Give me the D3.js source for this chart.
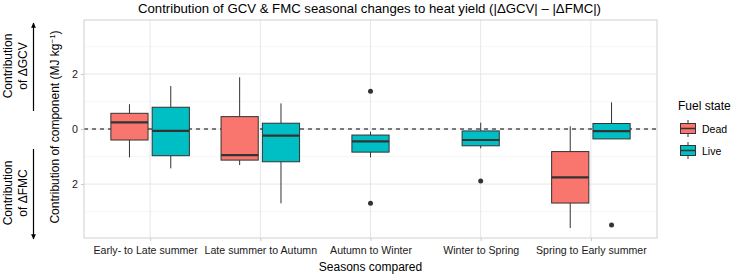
<!DOCTYPE html>
<html>
<head>
<meta charset="utf-8">
<script src="https://cdn.jsdelivr.net/npm/d3@7"></script>
<style>
  body { margin: 0; background: white; }
  text { font-family: "Liberation Sans", Arial, sans-serif; }
</style>
</head>
<body>
<div id="chart"></div>
<script>
const seasons = ["Early- to Late summer", "Late summer to Autumn", "Autumn to Winter", "Winter to Spring", "Spring to Early summer"];
const fuelStates = ["Dead", "Live"];
const fuelColors = ["#F8766D", "#00BFC4"];

// box stats: [season, lowWhisker, q1, median, q3, highWhisker]
const deadBoxes = [
    ["Early- to Late summer", -1.03, -0.40, 0.24, 0.57, 0.90],
    ["Late summer to Autumn", -1.31, -1.13, -0.95, 0.45, 1.88],
    ["Spring to Early summer", -3.60, -2.69, -1.76, -0.82, 0.10]
];
const liveBoxes = [
    ["Early- to Late summer", -1.43, -0.97, -0.07, 0.79, 1.56],
    ["Late summer to Autumn", -2.70, -1.19, -0.24, 0.21, 0.93],
    ["Autumn to Winter", -1.03, -0.84, -0.45, -0.22, -0.10],
    ["Winter to Spring", -0.70, -0.61, -0.40, -0.07, 0.23],
    ["Spring to Early summer", -0.36, -0.36, -0.08, 0.20, 0.97]
];
const liveOutliers = [
    ["Autumn to Winter", 1.37],
    ["Autumn to Winter", -2.70],
    ["Winter to Spring", -1.89],
    ["Spring to Early summer", -3.49]
];
const yTicks = [-2, 0, 2];
const yTickLabels = ["2", "0", "2"];
const yMinor = [-3, -1, 1, 3];

const width = 732, height = 275;
const panel = { left: 84, right: 657, top: 20, bottom: 238 };

const svg = d3.select("#chart").append("svg")
    .attr("width", width)
    .attr("height", height);

const x = d3.scalePoint(seasons, [panel.left, panel.right]).padding(0.6);
const step = x.step();
const y = d3.scaleLinear([-3.96, 3.96], [panel.bottom, panel.top]);

// grid
const grid = svg.append("g");
grid.selectAll(".minor").data(yMinor).enter().append("line")
    .attr("x1", panel.left).attr("x2", panel.right)
    .attr("y1", d => y(d)).attr("y2", d => y(d))
    .attr("stroke", "#f0f0f0").attr("stroke-width", 0.6);
grid.selectAll(".major").data(yTicks).enter().append("line")
    .attr("x1", panel.left).attr("x2", panel.right)
    .attr("y1", d => y(d)).attr("y2", d => y(d))
    .attr("stroke", "#e6e6e6").attr("stroke-width", 1);
grid.selectAll(".vmajor").data(seasons).enter().append("line")
    .attr("x1", d => x(d)).attr("x2", d => x(d))
    .attr("y1", panel.top).attr("y2", panel.bottom)
    .attr("stroke", "#e6e6e6").attr("stroke-width", 1);

// axes
const xAxis = d3.axisBottom(x).tickSize(3).tickPadding(5);
const gx = svg.append("g")
    .attr("transform", `translate(0, ${panel.bottom})`)
    .call(xAxis);
gx.select(".domain").remove();
gx.selectAll(".tick line").attr("stroke", "#c8c8c8");
gx.selectAll("text")
    .attr("fill", "#1a1a1a")
    .attr("dx", (d, i) => i == 0 ? -5 : 0)
    .style("font-size", "10.6px");

const yAxis = d3.axisLeft(y).tickValues(yTicks).tickFormat((d, i) => yTickLabels[i]).tickSize(3).tickPadding(3);
const gy = svg.append("g")
    .attr("transform", `translate(${panel.left}, 0)`)
    .call(yAxis);
gy.select(".domain").remove();
gy.selectAll(".tick line").attr("stroke", "#c8c8c8");
gy.selectAll("text").attr("fill", "#1a1a1a").style("font-size", "10.7px");

// zero line
svg.append("line")
    .attr("x1", panel.left).attr("x2", panel.right)
    .attr("y1", y(0)).attr("y2", y(0))
    .attr("stroke", "#000").attr("stroke-width", 1)
    .attr("stroke-dasharray", "4,4");

// boxes
const boxW = step * 0.75 / 2 * 0.9;
const offset = step * 0.75 / 4;
let boxData = [];
for (let b of deadBoxes) {
    let hasLive = liveBoxes.some(l => l[0] == b[0]);
    boxData.push({ season: b[0], state: 0, cx: x(b[0]) - (hasLive ? offset : 0), s: b.slice(1) });
}
for (let b of liveBoxes) {
    let hasDead = deadBoxes.some(d => d[0] == b[0]);
    boxData.push({ season: b[0], state: 1, cx: x(b[0]) + (hasDead ? offset : 0), s: b.slice(1) });
}

const boxes = svg.append("g").selectAll("g").data(boxData).enter().append("g");
boxes.append("line")
    .attr("x1", d => d.cx).attr("x2", d => d.cx)
    .attr("y1", d => y(d.s[0])).attr("y2", d => y(d.s[1]))
    .attr("stroke", "#333").attr("stroke-width", 1);
boxes.append("line")
    .attr("x1", d => d.cx).attr("x2", d => d.cx)
    .attr("y1", d => y(d.s[3])).attr("y2", d => y(d.s[4]))
    .attr("stroke", "#333").attr("stroke-width", 1);
boxes.append("rect")
    .attr("x", d => d.cx - boxW / 2)
    .attr("width", boxW)
    .attr("y", d => y(d.s[3]))
    .attr("height", d => y(d.s[1]) - y(d.s[3]))
    .attr("fill", d => fuelColors[d.state])
    .attr("stroke", "#333").attr("stroke-width", 1);
boxes.append("line")
    .attr("x1", d => d.cx - boxW / 2).attr("x2", d => d.cx + boxW / 2)
    .attr("y1", d => y(d.s[2])).attr("y2", d => y(d.s[2]))
    .attr("stroke", "#333").attr("stroke-width", 2.2);

svg.append("g").selectAll("circle").data(liveOutliers).enter().append("circle")
    .attr("cx", d => x(d[0]) + (deadBoxes.some(b => b[0] == d[0]) ? offset : 0))
    .attr("cy", d => y(d[1]))
    .attr("r", 2.5)
    .attr("fill", "#333");

// panel border
svg.append("rect")
    .attr("x", panel.left).attr("y", panel.top)
    .attr("width", panel.right - panel.left).attr("height", panel.bottom - panel.top)
    .attr("fill", "none").attr("stroke", "#d0d0d0").attr("stroke-width", 1);

// titles
svg.append("text")
    .attr("x", (panel.left + panel.right) / 2 - 1).attr("y", 12.5)
    .attr("text-anchor", "middle")
    .style("font-size", "13.2px")
    .attr("fill", "#000")
    .text("Contribution of GCV & FMC seasonal changes to heat yield (|ΔGCV| – |ΔFMC|)");

svg.append("text")
    .attr("x", (panel.left + panel.right) / 2).attr("y", 271)
    .attr("text-anchor", "middle")
    .style("font-size", "12px")
    .attr("fill", "#000")
    .text("Seasons compared");

const yTitle = svg.append("text")
    .attr("transform", `translate(59, ${(panel.top + panel.bottom) / 2 - 2}) rotate(-90)`)
    .attr("text-anchor", "middle")
    .style("font-size", "12px")
    .attr("fill", "#000");
yTitle.append("tspan").text("Contribution of component (MJ kg");
yTitle.append("tspan").attr("dy", -4).style("font-size", "8px").text("−1");
yTitle.append("tspan").attr("dy", 4).text(")");

// side annotations
const notes = [["Contribution", "of ΔGCV", 66], ["Contribution", "of ΔFMC", 193]];
for (let n of notes) {
    let t = svg.append("text")
        .attr("transform", `translate(12, ${n[2]}) rotate(-90)`)
        .attr("text-anchor", "middle")
        .style("font-size", "12px")
        .attr("fill", "#000");
    t.append("tspan").attr("x", 0).attr("y", 0).text(n[0]);
    t.append("tspan").attr("x", 0).attr("y", 15).text(n[1]);
}

const defs = svg.append("defs");
defs.append("marker")
    .attr("id", "arrow")
    .attr("viewBox", "0 0 10 10")
    .attr("refX", 8).attr("refY", 5)
    .attr("markerWidth", 5).attr("markerHeight", 5)
    .attr("orient", "auto")
    .append("path")
    .attr("d", "M0,1 L9,5 L0,9 Z")
    .attr("fill", "#000");

svg.append("line")
    .attr("x1", 33.5).attr("x2", 33.5).attr("y1", 111).attr("y2", 23)
    .attr("stroke", "#000").attr("stroke-width", 1.2)
    .attr("marker-end", "url(#arrow)");
svg.append("line")
    .attr("x1", 33.5).attr("x2", 33.5).attr("y1", 149).attr("y2", 239)
    .attr("stroke", "#000").attr("stroke-width", 1.2)
    .attr("marker-end", "url(#arrow)");

// legend
const legend = svg.append("g").attr("transform", "translate(678, 0)");
legend.append("text")
    .attr("x", 0).attr("y", 110)
    .style("font-size", "12px")
    .attr("fill", "#000")
    .text("Fuel state");

const keys = legend.selectAll(".key").data(fuelStates).enter().append("g")
    .attr("transform", (d, i) => `translate(2, ${120 + i * 22})`);
keys.append("line")
    .attr("x1", 8).attr("x2", 8).attr("y1", 0).attr("y2", 17)
    .attr("stroke", "#333").attr("stroke-width", 1);
keys.append("rect")
    .attr("x", 0.5).attr("y", 3.5).attr("width", 15).attr("height", 10)
    .attr("fill", (d, i) => fuelColors[i])
    .attr("stroke", "#333").attr("stroke-width", 1);
keys.append("line")
    .attr("x1", 0.5).attr("x2", 15.5).attr("y1", 8.5).attr("y2", 8.5)
    .attr("stroke", "#333").attr("stroke-width", 1.5);
keys.append("text")
    .attr("x", 22).attr("y", 12.5)
    .style("font-size", "10.5px")
    .attr("fill", "#000")
    .text(d => d);
</script>
</body>
</html>
